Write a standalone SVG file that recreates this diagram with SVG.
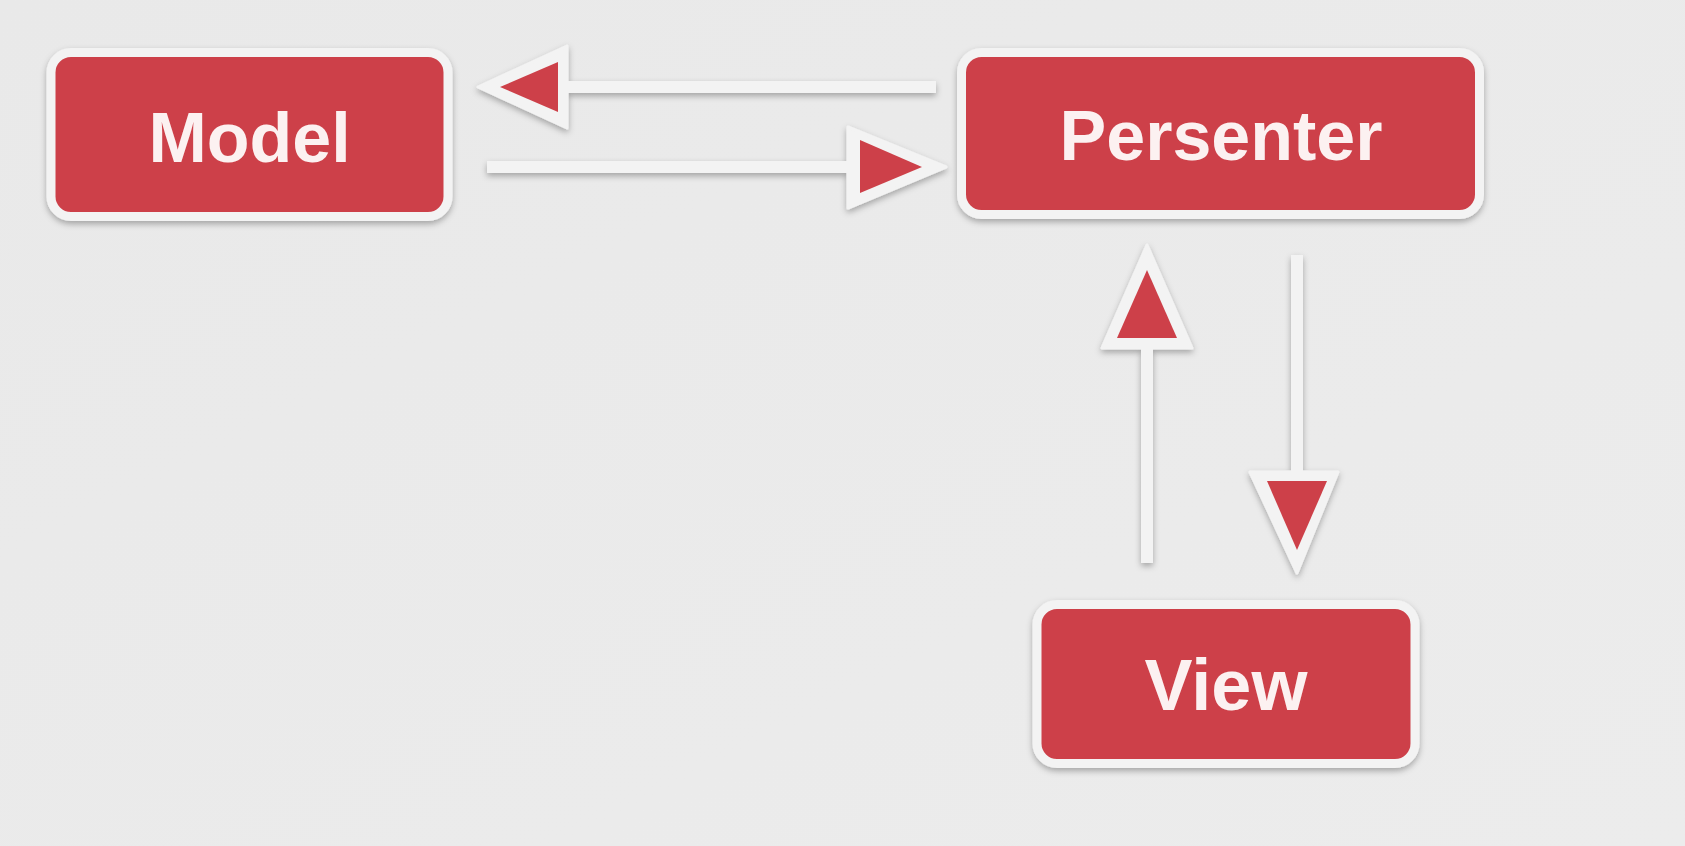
<svg xmlns="http://www.w3.org/2000/svg" width="1685" height="846" viewBox="0 0 1685 846">
  <defs>
    <linearGradient id="bg" x1="0" y1="0" x2="1" y2="1">
      <stop offset="0" stop-color="#e9e9e9"/>
      <stop offset="1" stop-color="#ececec"/>
    </linearGradient>
    <filter id="sh" x="-10%" y="-10%" width="120%" height="130%">
      <feDropShadow dx="0" dy="3" stdDeviation="3" flood-color="#000" flood-opacity="0.3"/>
    </filter>
    <style>
      .box { fill: #cd4149; stroke: #f3f3f3; stroke-width: 9; }
      .lbl { font-family: "Liberation Sans", Arial, sans-serif; font-weight: bold; fill: #fcf1f1; text-anchor: middle; }
      .line { stroke: #f3f3f3; stroke-width: 12; fill: none; }
      .head { fill: #f3f3f3; stroke: #f3f3f3; stroke-width: 3; stroke-linejoin: round; }
      .tri { fill: #cd4149; }
    </style>
  </defs>
  <rect width="1685" height="846" fill="url(#bg)"/>

  <g id="connectors" filter="url(#sh)">
    <g id="p-to-m">
      <line class="line" x1="936" y1="87" x2="560" y2="87"/>
      <polygon class="head" points="478,87 567,46 567,128"/>
      <polygon class="tri" points="500,87 558,62 558,112"/>
    </g>
    <g id="m-to-p">
      <line class="line" x1="487" y1="167" x2="855" y2="167"/>
      <polygon class="head" points="946,167 848,127 848,208"/>
      <polygon class="tri" points="922,167 860,140 860,193"/>
    </g>
    <g id="v-to-p">
      <line class="line" x1="1147" y1="563" x2="1147" y2="340"/>
      <polygon class="head" points="1147,245 1102,348 1192,348"/>
      <polygon class="tri" points="1147,270 1117,338 1177,338"/>
    </g>
    <g id="p-to-v">
      <line class="line" x1="1297" y1="255" x2="1297" y2="480"/>
      <polygon class="head" points="1297,573 1250,472 1338,472"/>
      <polygon class="tri" points="1297,550 1267,481 1327,481"/>
    </g>
  </g>

  <g id="model" filter="url(#sh)">
    <rect class="box" x="51" y="52.5" width="397" height="164" rx="20"/>
    <text class="lbl" x="249.5" y="162" font-size="70">Model</text>
  </g>
  <g id="presenter" filter="url(#sh)">
    <rect class="box" x="961.5" y="52.5" width="518" height="162" rx="20"/>
    <text class="lbl" x="1221" y="160" font-size="70">Persenter</text>
  </g>
  <g id="view" filter="url(#sh)">
    <rect class="box" x="1037" y="604.5" width="378" height="159" rx="20"/>
    <text class="lbl" x="1226" y="710" font-size="72">View</text>
  </g>
</svg>
